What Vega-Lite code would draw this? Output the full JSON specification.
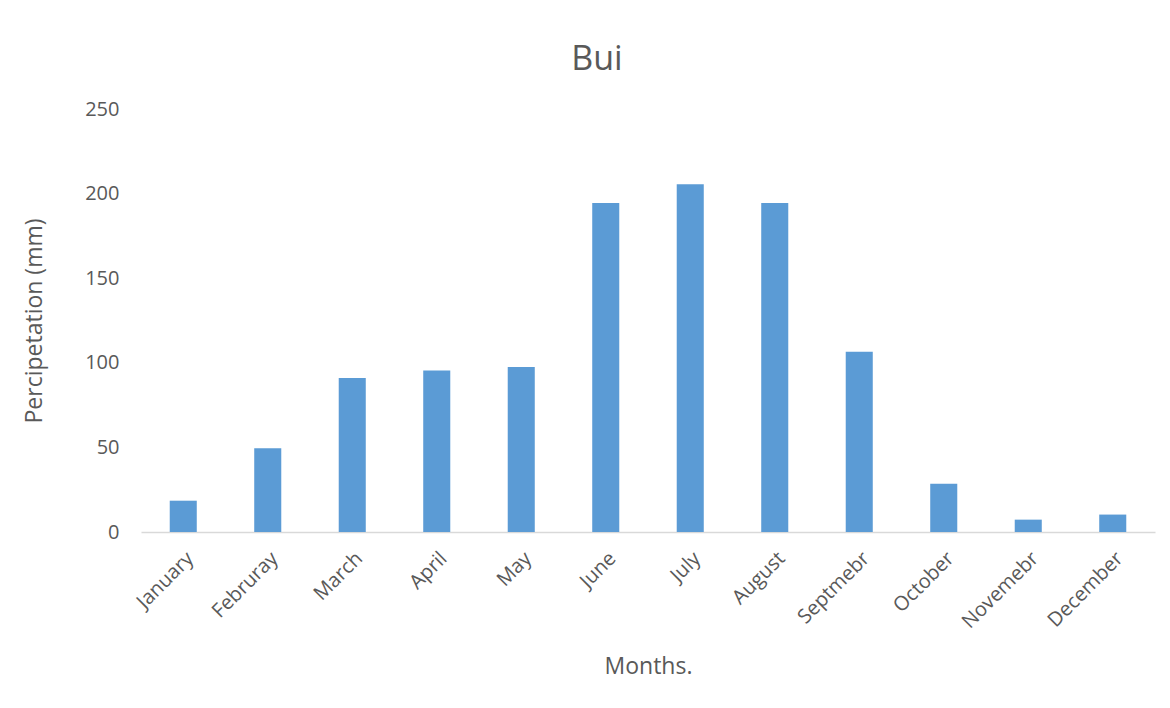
{
  "$schema": "https://vega.github.io/schema/vega-lite/v6.json",
  "width": 1014,
  "height": 423,
  "autosize": {"type": "none"},
  "padding": {"left": 141, "top": 109, "right": 15, "bottom": 176},
  "background": "white",
  "title": {
    "text": "Bui",
    "fontSize": 34,
    "font": "Open Sans",
    "fontWeight": "normal",
    "color": "#595959",
    "offset": 22,
    "dx": -51
  },
  "data": {
    "values": [
      {"month": "January", "value": 18.5},
      {"month": "Februray", "value": 49.5},
      {"month": "March", "value": 91},
      {"month": "April", "value": 95.5},
      {"month": "May", "value": 97.5},
      {"month": "June", "value": 194.5},
      {"month": "July", "value": 205.5},
      {"month": "August", "value": 194.5},
      {"month": "Septmebr", "value": 106.5},
      {"month": "October", "value": 28.5},
      {"month": "Novemebr", "value": 7.3},
      {"month": "December", "value": 10.3}
    ]
  },
  "mark": {"type": "bar", "color": "#5B9BD5"},
  "encoding": {
    "x": {
      "field": "month",
      "type": "nominal",
      "sort": null,
      "scale": {"paddingInner": 0.68, "paddingOuter": 0.34},
      "axis": {
        "title": "Months.",
        "titleFont": "Open Sans",
        "titleFontSize": 23,
        "titleFontWeight": "normal",
        "titleColor": "#595959",
        "titlePadding": 24,
        "labelAngle": -45,
        "labelFont": "Open Sans",
        "labelFontSize": 20,
        "labelColor": "#595959",
        "labelPadding": 16,
        "ticks": false,
        "domainColor": "#D9D9D9",
        "domainWidth": 1.5,
        "grid": false
      }
    },
    "y": {
      "field": "value",
      "type": "quantitative",
      "scale": {"domain": [0, 250]},
      "axis": {
        "title": "Percipetation (mm)",
        "titleFont": "Open Sans",
        "titleFontSize": 23,
        "titleFontWeight": "normal",
        "titleColor": "#595959",
        "titlePadding": 38,
        "values": [0, 50, 100, 150, 200, 250],
        "labelFont": "Open Sans",
        "labelFontSize": 20,
        "labelColor": "#595959",
        "labelPadding": 22,
        "ticks": false,
        "domain": false,
        "grid": false
      }
    }
  },
  "config": {"view": {"stroke": null}}
}
